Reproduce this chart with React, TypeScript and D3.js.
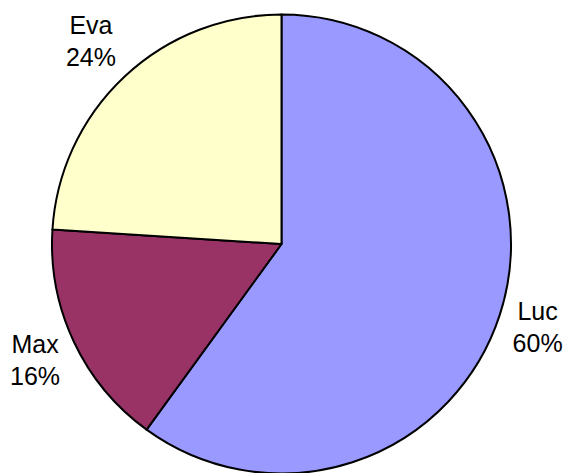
import React, { useEffect, useRef } from 'react';
import * as d3 from 'd3';

const names = ['Luc', 'Max', 'Eva'];
const shares = [60, 16, 24];
const sliceColors = ['#9999FF', '#993366', '#FFFFCC'];

const width = 566;
const height = 473;

const App: React.FC = () => {
  const ref = useRef<SVGSVGElement | null>(null);

  useEffect(() => {
    if (!ref.current) return;

    const data = names.map((label, i) => ({ label, value: shares[i] }));
    const radius = 229.5;
    const cx = 281.5;
    const cy = 244;

    const svg = d3
      .select(ref.current)
      .attr('width', width)
      .attr('height', height)
      .html('')
      .append('g')
      .attr('transform', `translate(${cx}, ${cy})`);

    const pie = d3
      .pie<{ label: string; value: number }>()
      .value((d) => d.value)
      .sort(null);

    const arc = d3
      .arc<d3.PieArcDatum<{ label: string; value: number }>>()
      .innerRadius(0)
      .outerRadius(radius);

    const arcs = svg.selectAll('.arc').data(pie(data)).enter().append('g').attr('class', 'arc');

    arcs
      .append('path')
      .attr('d', (d) => arc(d)!)
      .attr('fill', (_, i) => sliceColors[i % sliceColors.length])
      .attr('stroke', '#000')
      .attr('stroke-width', 2)
      .attr('stroke-linejoin', 'round');

    // labels sit just outside the rim, pushed out by half the text box
    const total = d3.sum(data, (d) => d.value);
    const boxW = 42;
    const boxH = 70;
    const gap = 9;

    arcs
      .append('text')
      .attr('text-anchor', 'middle')
      .attr('font-family', 'Liberation Sans, Arial, sans-serif')
      .attr('font-size', '25px')
      .attr('fill', '#000')
      .each(function (d) {
        const mid = (d.startAngle + d.endAngle) / 2;
        const sx = Math.sin(mid);
        const cyDir = -Math.cos(mid);
        const dist = radius + gap + Math.abs(sx) * (boxW / 2) + Math.abs(cyDir) * (boxH / 2);
        const x = sx * dist;
        const y = cyDir * dist;
        const pct = Math.round((d.data.value / total) * 100) + '%';

        const t = d3.select(this);
        t.append('tspan').attr('x', x).attr('y', y - 7).text(d.data.label);
        t.append('tspan').attr('x', x).attr('y', y + 25).text(pct);
      });
  }, []);

  return <svg ref={ref} style={{ position: 'absolute', left: 0, top: 0 }}></svg>;
};

export default App;
